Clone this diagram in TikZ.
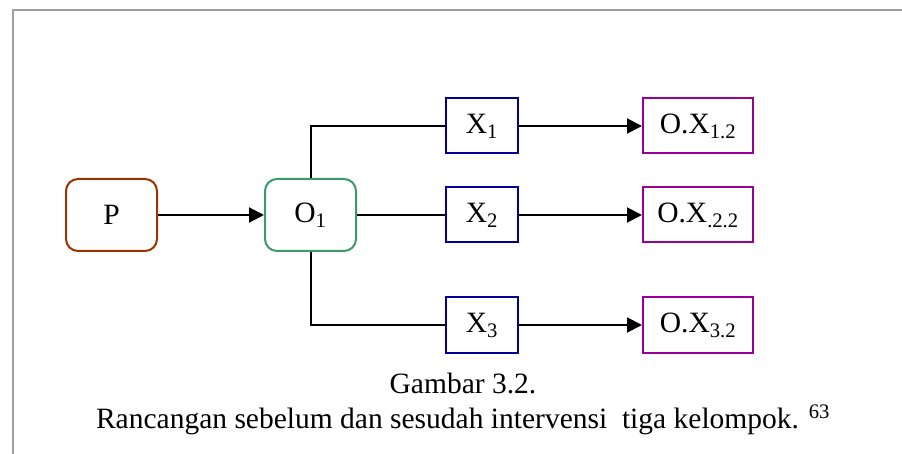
\documentclass[tikz,border=0pt]{standalone}
\usepackage{fontspec}
\setmainfont{Liberation Serif}
\usetikzlibrary{arrows.meta}
\definecolor{pcol}{HTML}{993300}
\definecolor{ocol}{HTML}{3A9A6A}
\definecolor{xcol}{HTML}{000099}
\definecolor{oxcol}{HTML}{990099}
\definecolor{framecol}{HTML}{A0A0A0}
\begin{document}
\begin{tikzpicture}[x=1pt,y=-1pt,>={Triangle[length=15pt,width=15pt]},line width=2pt,
	every node/.style={font=\fontsize{29.5}{34}\selectfont,inner sep=0pt},
	rbox/.style={draw,rounded corners=12pt,minimum width=91pt,minimum height=72pt},
	xbox/.style={draw=xcol,minimum width=72pt,minimum height=55pt},
	oxbox/.style={draw=oxcol,minimum width=110pt,minimum height=55pt}]
	\useasboundingbox (0,0) rectangle (902,454);
	\draw[framecol,line width=2pt] (902,10) -- (12.5,10) -- (12.5,454);
	\node[rbox,draw=pcol](P)at(111.5,215){P};
	\node[rbox,draw=ocol](O1)at(310.5,215){O\textsubscript{1}};
	\node[xbox](X1)at(482,126){X\textsubscript{1}};
	\node[xbox](X2)at(482,215){X\textsubscript{2}};
	\node[xbox](X3)at(482,325){X\textsubscript{3}};
	\node[oxbox](OX1)at(698,126){O.X\textsubscript{1.2}};
	\node[oxbox](OX2)at(698,215){O.X\textsubscript{.2.2}};
	\node[oxbox](OX3)at(698,325){O.X\textsubscript{3.2}};
	\draw[->](P)--(O1);
	\draw(O1.north)|-(X1.west);
	\draw(O1.east)--(X2.west);
	\draw(O1.south)|-(X3.west);
	\draw[->](X1)--(OX1);
	\draw[->](X2)--(OX2);
	\draw[->](X3)--(OX3);
	\node[anchor=base](cap1)at(463,393){Gambar 3.2.};
	\node[anchor=base](cap2)at(463,428){Rancangan sebelum dan sesudah intervensi\ \ tiga kelompok. \textsuperscript{63}};
\end{tikzpicture}
\end{document}
